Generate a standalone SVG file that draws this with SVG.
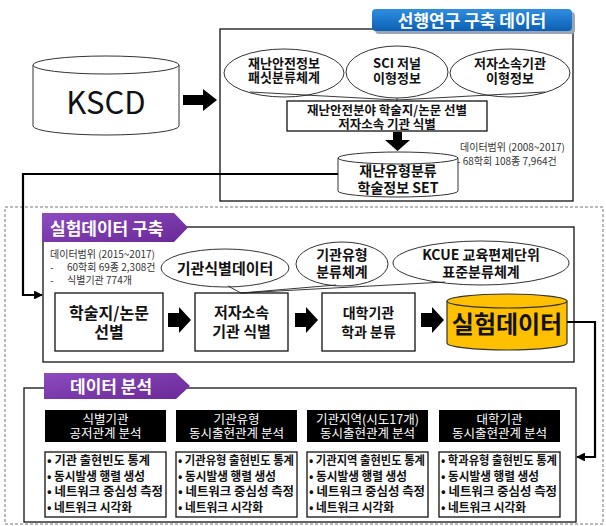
<svg xmlns="http://www.w3.org/2000/svg" width="606" height="526" viewBox="0 0 606 526">
<defs>
<style>
text{font-family:"Noto Sans CJK KR","Noto Sans",sans-serif;fill:#111}
.b{font-weight:700}
.c{text-anchor:middle}
.box{fill:#fff;stroke:#111;stroke-width:1.3}
.thin{fill:none;stroke:#222;stroke-width:0.9}
.el{fill:#fff;stroke:#333;stroke-width:1}
.conn{fill:none;stroke:#000;stroke-width:2.2}
.small{font-size:10px;fill:#333}
.hd{font-size:12.5px;fill:#fff;text-anchor:middle}
.li{font-size:12px;font-weight:700}
.tab{font-size:17px;font-weight:700;fill:#fff}
</style>
<linearGradient id="gBlue" x1="0" y1="0" x2="0" y2="1">
<stop offset="0" stop-color="#2f8ee0"/><stop offset="1" stop-color="#0d5fb3"/>
</linearGradient>
<linearGradient id="gPur" x1="0" y1="0" x2="1" y2="1">
<stop offset="0" stop-color="#8c4cc0"/><stop offset="1" stop-color="#6a2897"/>
</linearGradient>
<path id="ar" d="M0,-7 H11 V-13 L23,0 L11,13 V7 H0 Z" fill="#000"/>
<marker id="mk" viewBox="0 0 10 10" refX="9" refY="5" markerWidth="4" markerHeight="4" orient="auto" markerUnits="strokeWidth">
<path d="M0,0 L10,5 L0,10 Z" fill="#000"/>
</marker>
</defs>
<rect width="606" height="526" fill="#fff"/>

<!-- dashed frame -->
<rect x="5" y="207" width="598" height="317" fill="none" stroke="#777" stroke-width="1" stroke-dasharray="3,2"/>

<!-- KSCD -->
<g id="kscd">
<path d="M33,65 V126 A73,9 0 0 0 179,126 V65" class="el"/>
<ellipse cx="106" cy="65" rx="73" ry="9" class="el"/>
<text x="106" y="114" class="c" font-size="31">KSCD</text>
</g>

<!-- top section -->
<g id="prior">
<rect x="220" y="29" width="353" height="172" class="box"/>
<rect x="375" y="12" width="200" height="22" rx="4" fill="#9aa6b5"/>
<rect x="372" y="9" width="200" height="22" rx="4" fill="url(#gBlue)"/>
<text x="472" y="26.5" class="c tab">선행연구 구축 데이터</text>
</g>

<g id="e-top1">
<ellipse cx="284" cy="73" rx="60" ry="24" class="el"/>
<text x="284" y="68" class="c b" font-size="13">재난안전정보</text>
<text x="284" y="82" class="c b" font-size="13">패싯분류체계</text>
</g>
<g id="e-top2">
<ellipse cx="397" cy="72" rx="51" ry="26" class="el"/>
<text x="397" y="68" class="c b" font-size="13">SCI 저널</text>
<text x="397" y="83" class="c b" font-size="13">이형정보</text>
</g>
<g id="e-top3">
<ellipse cx="510" cy="73" rx="60" ry="24" class="el"/>
<text x="510" y="68" class="c b" font-size="13">저자소속기관</text>
<text x="510" y="83" class="c b" font-size="13">이형정보</text>
</g>
<g id="sel-top">
<rect x="287" y="101" width="200" height="30" class="box" stroke-width="1"/>
<text x="387" y="115" class="c b" font-size="12.5">재난안전분야 학술지/논문 선별</text>
<text x="387" y="129" class="c b" font-size="12.5">저자소속 기관 식별</text>
</g>
<g id="set">
<path d="M338,158 V191 A60,6 0 0 0 458,191 V158" class="el"/>
<ellipse cx="398" cy="158" rx="60" ry="6" class="el"/>
<text x="398" y="176" class="c b" font-size="14">재난유형분류</text>
<text x="398" y="193" class="c b" font-size="14">학술정보 SET</text>
</g>
<g id="range-top">
<text x="460" y="151" class="small">데이터범위 (2008~2017)</text>
<text x="457" y="165" class="small">- 68학회 108종 7,964건</text>
</g>

<!-- middle section -->
<g id="build">
<rect x="43" y="227" width="531" height="135" class="box" stroke-width="1.8"/>
<polygon points="42,213 174,213 188,227.5 174,242 42,242" fill="url(#gPur)"/>
<text x="50" y="235" class="tab">실험데이터 구축</text>
</g>
<g id="range-mid">
<text x="50" y="258" class="small">데이터범위 (2015~2017)</text>
<text x="50" y="271" class="small">-<tspan x="67">60학회 69종 2,308건</tspan></text>
<text x="50" y="284" class="small">-<tspan x="67">식별기관 774개</tspan></text>
</g>
<g id="e-mid1">
<ellipse cx="225" cy="268" rx="64" ry="19" class="el"/>
<text x="225" y="273.5" class="c b" font-size="15">기관식별데이터</text>
</g>
<g id="e-mid2">
<ellipse cx="342" cy="264" rx="46" ry="22" class="el"/>
<text x="342" y="260" class="c b" font-size="14">기관유형</text>
<text x="342" y="277" class="c b" font-size="14">분류체계</text>
</g>
<g id="e-mid3">
<ellipse cx="481" cy="263" rx="88" ry="22" class="el"/>
<text x="481" y="260" class="c b" font-size="14">KCUE 교육편제단위</text>
<text x="481" y="277" class="c b" font-size="14">표준분류체계</text>
</g>
<g id="n1">
<rect x="55" y="293" width="108" height="58" class="box" stroke-width="1.6"/>
<text x="109" y="319" class="c b" font-size="16">학술지/논문</text>
<text x="109" y="338" class="c b" font-size="16">선별</text>
</g>
<g id="n2">
<rect x="195" y="293" width="93" height="58" class="box" stroke-width="1.6"/>
<text x="241.5" y="318" class="c b" font-size="15">저자소속</text>
<text x="241.5" y="337" class="c b" font-size="15">기관 식별</text>
</g>
<g id="n3">
<rect x="322" y="293" width="93" height="58" class="box" stroke-width="1.6"/>
<text x="368.5" y="318" class="c b" font-size="14">대학기관</text>
<text x="368.5" y="337" class="c b" font-size="14">학과 분류</text>
</g>
<g id="n4">
<path d="M447,301 V343 A60,7 0 0 0 567,343 V301" fill="#ffc000" stroke="#333" stroke-width="1.2"/>
<ellipse cx="507" cy="301" rx="60" ry="7" fill="#ffc000" stroke="#333" stroke-width="1.2"/>
<text x="507" y="333" class="c b" font-size="24">실험데이터</text>
</g>

<!-- bottom section -->
<g id="analysis">
<rect x="24" y="388" width="552" height="134" class="box" stroke-width="1.8"/>
<polygon points="44,373 176,373 190,386 176,399 44,399" fill="url(#gPur)"/>
<text x="70" y="393" class="tab" font-size="18">데이터 분석</text>
</g>
<g id="a1">
<rect x="45" y="410" width="121" height="32" fill="#000"/>
<text x="105.5" y="424" class="hd">식별기관</text>
<text x="105.5" y="438" class="hd">공저관계 분석</text>
<rect x="45" y="452" width="121" height="65" class="box" stroke-width="1.2"/>
<text x="47" y="465" class="li" textLength="103" lengthAdjust="spacingAndGlyphs">• 기관 출현빈도 통계</text>
<text x="47" y="480.5" class="li" textLength="98" lengthAdjust="spacingAndGlyphs">• 동시발생 행렬 생성</text>
<text x="47" y="496" class="li" textLength="116" lengthAdjust="spacingAndGlyphs">• 네트워크 중심성 측정</text>
<text x="47" y="511.5" class="li" textLength="85" lengthAdjust="spacingAndGlyphs">• 네트워크 시각화</text>
</g>
<g id="a2">
<rect x="176" y="410" width="121" height="32" fill="#000"/>
<text x="236.5" y="424" class="hd">기관유형</text>
<text x="236.5" y="438" class="hd">동시출현관계 분석</text>
<rect x="176" y="452" width="121" height="65" class="box" stroke-width="1.2"/>
<text x="178" y="465" class="li" font-size="11" textLength="116" lengthAdjust="spacingAndGlyphs">• 기관유형 출현빈도 통계</text>
<text x="178" y="480.5" class="li" textLength="98" lengthAdjust="spacingAndGlyphs">• 동시발생 행렬 생성</text>
<text x="178" y="496" class="li" textLength="116" lengthAdjust="spacingAndGlyphs">• 네트워크 중심성 측정</text>
<text x="178" y="511.5" class="li" textLength="85" lengthAdjust="spacingAndGlyphs">• 네트워크 시각화</text>
</g>
<g id="a3">
<rect x="307" y="410" width="121" height="32" fill="#000"/>
<text x="367.5" y="424" class="hd">기관지역(시도17개)</text>
<text x="367.5" y="438" class="hd">동시출현관계 분석</text>
<rect x="307" y="452" width="121" height="65" class="box" stroke-width="1.2"/>
<text x="309" y="465" class="li" font-size="11" textLength="116" lengthAdjust="spacingAndGlyphs">• 기관지역 출현빈도 통계</text>
<text x="309" y="480.5" class="li" textLength="98" lengthAdjust="spacingAndGlyphs">• 동시발생 행렬 생성</text>
<text x="309" y="496" class="li" textLength="116" lengthAdjust="spacingAndGlyphs">• 네트워크 중심성 측정</text>
<text x="309" y="511.5" class="li" textLength="85" lengthAdjust="spacingAndGlyphs">• 네트워크 시각화</text>
</g>
<g id="a4">
<rect x="439" y="410" width="121" height="32" fill="#000"/>
<text x="499.5" y="424" class="hd">대학기관</text>
<text x="499.5" y="438" class="hd">동시출현관계 분석</text>
<rect x="439" y="452" width="121" height="65" class="box" stroke-width="1.2"/>
<text x="441" y="465" class="li" font-size="11" textLength="116" lengthAdjust="spacingAndGlyphs">• 학과유형 출현빈도 통계</text>
<text x="441" y="480.5" class="li" textLength="98" lengthAdjust="spacingAndGlyphs">• 동시발생 행렬 생성</text>
<text x="441" y="496" class="li" textLength="116" lengthAdjust="spacingAndGlyphs">• 네트워크 중심성 측정</text>
<text x="441" y="511.5" class="li" textLength="85" lengthAdjust="spacingAndGlyphs">• 네트워크 시각화</text>
</g>

<!-- connectors -->
<g id="connectors">
<path d="M183,95 H203 V89 L217,100 L203,111 V105 H183 Z" fill="#000"/>
<polyline points="250,92 397,100 545,92" class="thin"/>
<line x1="397" y1="98" x2="397" y2="101" class="thin"/>
<path d="M393,132 H402 V140 H410 L397.5,151 L385,140 H393 Z" fill="#000"/>
<polyline points="338,174 23,174 23,295 42,295" class="conn" marker-end="url(#mk)"/>
<polyline points="228,286 241,293 336,285" class="thin"/>
<line x1="241" y1="293" x2="445" y2="282" class="thin"/>
<use href="#ar" transform="translate(168,320)"/>
<use href="#ar" transform="translate(295,320)"/>
<use href="#ar" transform="translate(421,320)"/>
<polyline points="567,322 595,322 595,457 577,457" class="conn" marker-end="url(#mk)"/>
</g>
</svg>
